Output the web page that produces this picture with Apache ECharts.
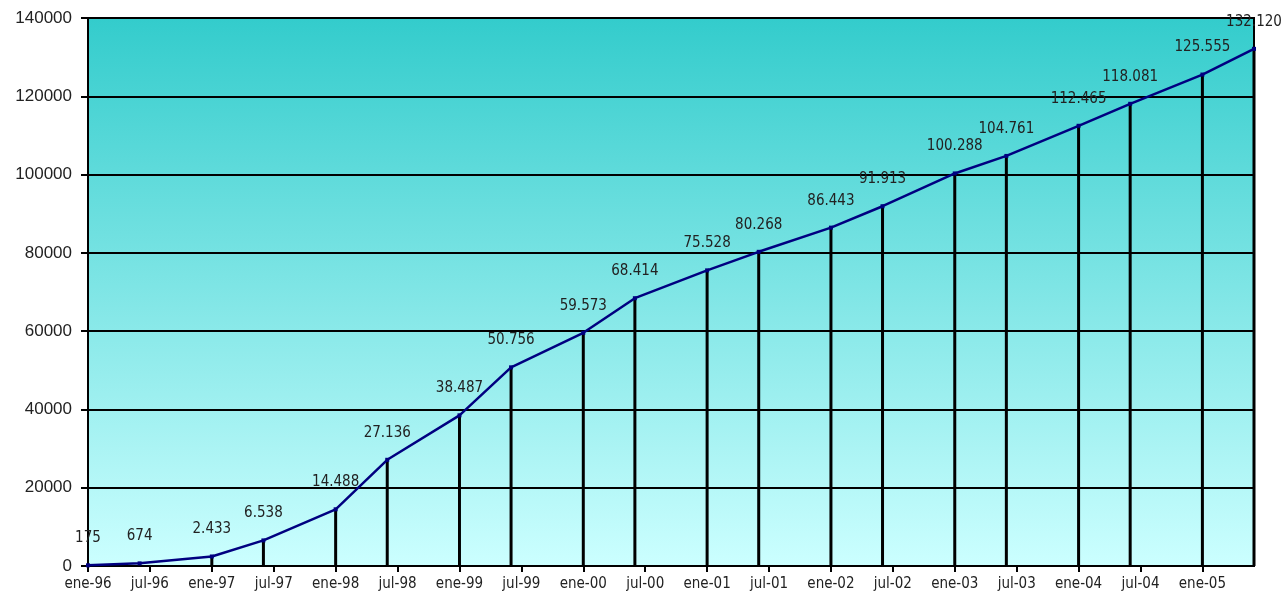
<!DOCTYPE html>
<html>
<head>
<meta charset="utf-8">
<script src="https://cdn.jsdelivr.net/npm/echarts@6/dist/echarts.min.js"></script>
<style>
html,body{margin:0;padding:0;background:#fff;}
#chart{width:1281px;height:602px;}
</style>
</head>
<body>
<div id="chart"></div>
<script>
// months since January 1996
var months = [0, 5, 12, 17, 24, 29, 36, 41, 48, 53, 60, 65, 72, 77, 84, 89, 96, 101, 108, 113];
var values = [175, 674, 2433, 6538, 14488, 27136, 38487, 50756, 59573, 68414, 75528, 80268, 86443, 91913, 100288, 104761, 112465, 118081, 125555, 132120];
var monthNames = ['ene', 'jul'];
var yTicks = [0, 20000, 40000, 60000, 80000, 100000, 120000, 140000];

var narrow = '"Liberation Sans Narrow", "Arial Narrow", "DejaVu Sans Condensed", sans-serif';
var regular = '"Liberation Sans", Arial, sans-serif';

function fmtThousands(v) {
  return String(v).replace(/\B(?=(\d{3})+(?!\d))/g, '.');
}
function fmtMonth(v) {
  var y = (96 + Math.floor(v / 12)) % 100;
  var m = monthNames[(v % 12) / 6];
  return m + '-' + (y < 10 ? '0' + y : y);
}

var pts = months.map(function (m, i) { return [m, values[i]]; });

var chart = echarts.init(document.getElementById('chart'));
chart.setOption({
  animation: false,
  grid: {
    left: 88, right: 27, top: 18, bottom: 36,
    show: true,
    borderColor: '#000',
    borderWidth: 2,
    backgroundColor: new echarts.graphic.LinearGradient(0, 0, 0, 1, [
      { offset: 0, color: '#33CCCC' },
      { offset: 1, color: '#CCFFFF' }
    ])
  },
  xAxis: {
    type: 'value',
    min: 0,
    max: months[months.length - 1],
    interval: 6,
    axisLine: { show: true, lineStyle: { color: '#000', width: 2 } },
    axisTick: { show: true, length: 6, lineStyle: { color: '#000', width: 2 } },
    splitLine: { show: false },
    axisLabel: {
      showMaxLabel: false,
      margin: 11,
      fontFamily: narrow,
      fontSize: 15,
      color: '#222',
      formatter: function (v) { return v % 6 === 0 ? fmtMonth(v) : ''; }
    }
  },
  yAxis: {
    type: 'value',
    min: yTicks[0],
    max: yTicks[yTicks.length - 1],
    interval: yTicks[1] - yTicks[0],
    axisLine: { show: true, lineStyle: { color: '#000', width: 2 } },
    axisTick: { show: true, length: 7, lineStyle: { color: '#000', width: 2 } },
    splitLine: { show: true, lineStyle: { color: '#000', width: 2 } },
    axisLabel: {
      margin: 16,
      fontFamily: regular,
      fontSize: 17,
      color: '#222',
      formatter: function (v) { return String(v); }
    }
  },
  series: [
    {
      type: 'custom',
      z: 2,
      data: pts,
      renderItem: function (params, api) {
        var top = api.coord([api.value(0), api.value(1)]);
        var bot = api.coord([api.value(0), 0]);
        return {
          type: 'line',
          shape: { x1: top[0], y1: top[1], x2: bot[0], y2: bot[1] },
          style: { stroke: '#000', lineWidth: 3 }
        };
      }
    },
    {
      type: 'line',
      z: 3,
      data: pts,
      symbol: 'rect',
      symbolSize: 4,
      clip: false,
      lineStyle: { color: '#000080', width: 2.5 },
      itemStyle: { color: '#000080' },
      label: {
        show: true,
        position: 'top',
        distance: 17,
        fontFamily: narrow,
        fontSize: 15,
        lineHeight: 16,
        color: '#222',
        formatter: function (p) { return fmtThousands(p.value[1]); }
      }
    }
  ]
});
</script>
</body>
</html>
